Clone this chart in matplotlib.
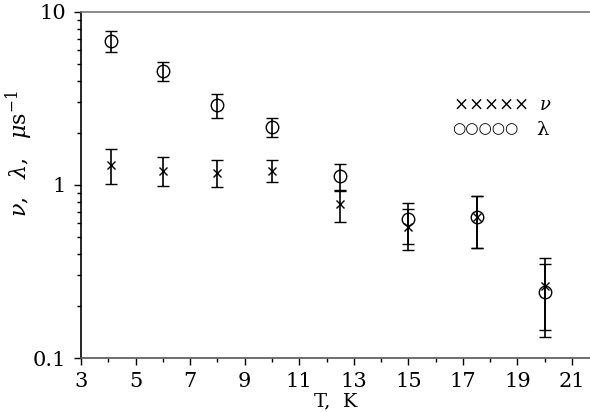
import numpy as np
import matplotlib.pyplot as plt
from matplotlib.ticker import FixedLocator, NullFormatter

# data
T_nu = [4.1, 6, 8, 10, 12.5, 15, 17.5, 20]
nu = [1.30, 1.21, 1.18, 1.21, 0.78, 0.574, 0.65, 0.26]
nu_hi = [1.61, 1.45, 1.39, 1.39, 0.92, 0.73, 0.864, 0.376]
nu_lo = [1.01, 0.99, 0.97, 1.04, 0.614, 0.421, 0.434, 0.146]

T_lam = [4.1, 6, 8, 10, 12.5, 15, 17.5, 20]
lam = [6.82, 4.56, 2.90, 2.17, 1.127, 0.633, 0.65, 0.24]
lam_hi = [7.8, 5.12, 3.34, 2.44, 1.32, 0.79, 0.864, 0.348]
lam_lo = [5.9, 3.97, 2.45, 1.89, 0.936, 0.454, 0.434, 0.133]

xticks = [3, 5, 7, 9, 11, 13, 15, 17, 19, 21]
yticks = [0.1, 1, 10]
ytick_labels = ['0.1', '1', '10']

plt.rcParams['font.family'] = ['DejaVu Serif']
plt.rcParams['mathtext.fontset'] = 'dejavuserif'

fig = plt.figure(figsize=(5.9, 4.12), dpi=100)
ax = fig.add_axes([0.1373, 0.131, 0.8627, 0.84])

nu = np.array(nu)
lam = np.array(lam)
nu_err = [nu - np.array(nu_lo), np.array(nu_hi) - nu]
lam_err = [lam - np.array(lam_lo), np.array(lam_hi) - lam]

ax.errorbar(T_nu, nu, yerr=nu_err, fmt='x', color='black', ms=5.5, mew=1.0,
            ecolor='black', elinewidth=1.2, capsize=4.5, capthick=1.2)
ax.errorbar(T_lam, lam, yerr=lam_err, fmt='o', mfc='none', mec='black', ms=9,
            mew=1.0, ecolor='black', elinewidth=1.2, capsize=4.5, capthick=1.2)

ax.set_yscale('log')
ax.set_ylim(0.1, 10)
ax.set_xlim(3, 21.66)

ax.xaxis.set_major_locator(FixedLocator(xticks))
ax.xaxis.set_minor_locator(FixedLocator(np.arange(4, 22, 2)))
ax.set_xticklabels([str(t) for t in xticks])
ax.yaxis.set_major_locator(FixedLocator(yticks))
ax.set_yticklabels(ytick_labels)
ax.yaxis.set_minor_locator(FixedLocator([k * 10.0 ** e for e in (-1, 0) for k in range(2, 10)]))
ax.yaxis.set_minor_formatter(NullFormatter())

ax.tick_params(which='major', direction='out', length=5, width=1.0, labelsize=15, color='black')
ax.tick_params(which='minor', direction='out', length=3, width=1.0, color='black')
ax.tick_params(axis='x', pad=5)
ax.tick_params(axis='y', pad=6)

ax.spines['right'].set_visible(False)
ax.spines['top'].set_color('#777777')
ax.spines['bottom'].set_color('#555555')
ax.spines['left'].set_color('black')
for s in ax.spines.values():
    s.set_linewidth(1.2)

ax.set_xlabel('T,  K', fontsize=14, labelpad=1)
ax.set_ylabel(r'$\nu,\ \ \lambda,\ \ \mu\mathrm{s}^{-1}$', fontsize=16)
ax.yaxis.set_label_coords(-0.09, 0.59)

# hand-drawn style legend
ax.text(0.73, 0.73, '×××××  $\\nu$', transform=ax.transAxes, fontsize=13, va='center')
ax.text(0.73, 0.66, '○○○○○', transform=ax.transAxes, fontsize=11, va='center')
ax.text(0.895, 0.66, 'λ', transform=ax.transAxes, fontsize=14, va='center')

fig.savefig('out.png', dpi=100)
